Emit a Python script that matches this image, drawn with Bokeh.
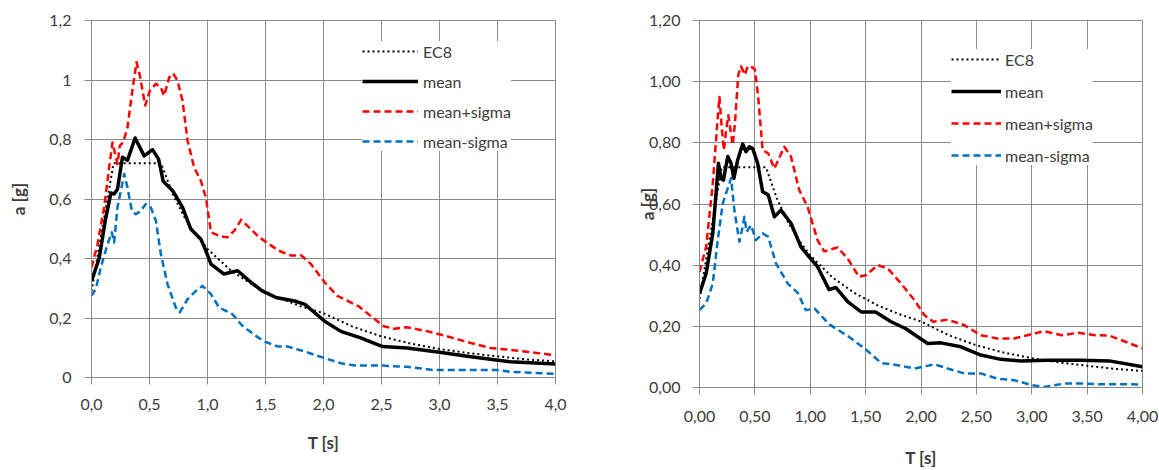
from bokeh.plotting import figure
from bokeh.layouts import row
from bokeh.models import FixedTicker, Range1d
from bokeh.embed import file_html
from bokeh.resources import INLINE

# ---------------- data: left chart ----------------
l_ec8_t = [0.0, 0.19, 0.6, 0.7, 0.8, 0.9, 1.0, 1.2, 1.4, 1.6, 1.8, 2.0, 2.25, 2.5, 2.75, 3.0, 3.25, 3.5, 3.75, 4.0]
l_ec8 = [0.29, 0.72, 0.72, 0.617, 0.54, 0.48, 0.432, 0.36, 0.309, 0.27, 0.24, 0.216, 0.171, 0.138, 0.114, 0.096, 0.082, 0.071, 0.061, 0.054]

l_mean_t = [0.0, 0.066, 0.12, 0.167, 0.195, 0.224, 0.267, 0.31, 0.376, 0.454, 0.526, 0.578, 0.618, 0.70, 0.785,
            0.856, 0.943, 0.986, 1.03, 1.14, 1.26, 1.36, 1.47, 1.59, 1.75, 1.84, 2.01, 2.15, 2.32, 2.51, 2.72,
            3.00, 3.27, 3.61, 4.00]
l_mean = [0.325, 0.40, 0.53, 0.62, 0.617, 0.633, 0.74, 0.73, 0.805, 0.745, 0.766, 0.734, 0.66, 0.628, 0.572,
          0.499, 0.465, 0.426, 0.381, 0.348, 0.359, 0.325, 0.291, 0.269, 0.257, 0.246, 0.189, 0.155, 0.133, 0.104, 0.099,
          0.085, 0.070, 0.053, 0.045]

l_plus_t = [0.0, 0.052, 0.109, 0.152, 0.181, 0.204, 0.224, 0.244, 0.273, 0.31, 0.348, 0.388, 0.417, 0.463, 0.503,
            0.555, 0.598, 0.626, 0.67, 0.704, 0.741, 0.785, 0.828, 0.885, 0.943, 0.986, 1.03, 1.10, 1.17, 1.23,
            1.29, 1.36, 1.44, 1.61, 1.72, 1.81, 1.89, 2.01, 2.12, 2.30, 2.41, 2.52, 2.61, 2.72, 2.90, 3.07, 3.27,
            3.44, 3.61, 4.00]
l_plus = [0.37, 0.448, 0.572, 0.706, 0.79, 0.751, 0.717, 0.779, 0.79, 0.84, 0.953, 1.06, 1.015, 0.914, 0.964,
          0.987, 0.975, 0.947, 1.009, 1.022, 0.998, 0.93, 0.796, 0.706, 0.661, 0.605, 0.488, 0.476, 0.471, 0.493,
          0.53, 0.504, 0.473, 0.427, 0.41, 0.41, 0.382, 0.32, 0.274, 0.24, 0.206, 0.172, 0.164, 0.169, 0.155, 0.138,
          0.116, 0.099, 0.093, 0.075]

l_minus_t = [0.0, 0.037, 0.08, 0.138, 0.175, 0.195, 0.224, 0.253, 0.282, 0.31, 0.348, 0.382, 0.425, 0.468, 0.511,
             0.555, 0.598, 0.655, 0.727, 0.761, 0.828, 0.90, 0.957, 1.03, 1.10, 1.215, 1.30, 1.417, 1.49, 1.61,
             1.69, 1.84, 2.01, 2.15, 2.27, 2.50, 2.72, 2.95, 3.24, 3.50, 3.61, 4.00]
l_minus = [0.275, 0.297, 0.37, 0.448, 0.488, 0.454, 0.572, 0.628, 0.684, 0.639, 0.56, 0.549, 0.56, 0.583, 0.572,
           0.527, 0.415, 0.314, 0.235, 0.219, 0.263, 0.291, 0.308, 0.28, 0.235, 0.213, 0.174, 0.14, 0.121, 0.104,
           0.104, 0.087, 0.065, 0.048, 0.04, 0.04, 0.036, 0.025, 0.025, 0.025, 0.019, 0.012]

# ---------------- data: right chart ----------------
r_ec8_t = [0.0, 0.2, 0.6, 0.7, 0.8, 0.9, 1.0, 1.2, 1.4, 1.6, 1.8, 2.0, 2.25, 2.5, 2.75, 3.0, 3.25, 3.5, 3.75, 4.0]
r_ec8 = [0.29, 0.72, 0.72, 0.617, 0.54, 0.48, 0.432, 0.36, 0.309, 0.27, 0.24, 0.216, 0.171, 0.138, 0.114, 0.096, 0.082, 0.071, 0.061, 0.054]

r_mean_t = [0.0, 0.06, 0.12, 0.171, 0.195, 0.216, 0.255, 0.285, 0.31, 0.345, 0.39, 0.42, 0.45, 0.48, 0.525, 0.57,
            0.62, 0.676, 0.735, 0.826, 0.916, 0.99, 1.066, 1.17, 1.23, 1.34, 1.46, 1.59, 1.73, 1.86, 1.97, 2.06,
            2.18, 2.36, 2.54, 2.72, 2.90, 3.14, 3.45, 3.70, 4.00]
r_mean = [0.307, 0.373, 0.504, 0.733, 0.684, 0.678, 0.755, 0.733, 0.684, 0.744, 0.796, 0.771, 0.787, 0.782, 0.733, 0.64,
          0.63, 0.558, 0.58, 0.537, 0.46, 0.427, 0.395, 0.32, 0.327, 0.28, 0.247, 0.247, 0.215, 0.193, 0.166, 0.144,
          0.146, 0.133, 0.106, 0.092, 0.087, 0.089, 0.089, 0.087, 0.068]

r_plus_t = [0.0, 0.06, 0.12, 0.165, 0.18, 0.20, 0.22, 0.24, 0.26, 0.28, 0.30, 0.32, 0.35, 0.375, 0.41, 0.435, 0.465,
            0.50, 0.53, 0.57, 0.62, 0.676, 0.766, 0.826, 0.90, 0.976, 1.066, 1.126, 1.246, 1.337, 1.44, 1.50, 1.61,
            1.70, 1.82, 1.94, 2.03, 2.11, 2.24, 2.39, 2.54, 2.69, 2.84, 2.96, 3.11, 3.27, 3.42, 3.57, 3.70, 4.00]
r_plus = [0.378, 0.46, 0.667, 0.885, 0.95, 0.853, 0.776, 0.84, 0.89, 0.84, 0.793, 0.864, 1.022, 1.05, 1.022, 1.05, 1.05,
          1.04, 0.95, 0.776, 0.766, 0.716, 0.787, 0.755, 0.646, 0.591, 0.482, 0.445, 0.458, 0.422, 0.362, 0.367, 0.40,
          0.389, 0.34, 0.286, 0.237, 0.215, 0.222, 0.204, 0.171, 0.16, 0.16, 0.171, 0.184, 0.171, 0.179, 0.171, 0.17, 0.128]

r_minus_t = [0.0, 0.06, 0.12, 0.165, 0.21, 0.255, 0.285, 0.315, 0.36, 0.39, 0.405, 0.426, 0.465, 0.51, 0.57, 0.62,
             0.69, 0.796, 0.886, 0.96, 1.04, 1.17, 1.34, 1.50, 1.64, 1.79, 1.94, 2.12, 2.24, 2.39, 2.54, 2.69, 2.84,
             3.00, 3.11, 3.30, 3.45, 3.60, 4.00]
r_minus = [0.253, 0.275, 0.34, 0.482, 0.602, 0.651, 0.684, 0.58, 0.477, 0.526, 0.558, 0.509, 0.531, 0.482, 0.504, 0.493,
           0.406, 0.34, 0.31, 0.253, 0.258, 0.207, 0.168, 0.125, 0.08, 0.073, 0.062, 0.076, 0.062, 0.046, 0.046, 0.029,
           0.024, 0.008, 0.002, 0.013, 0.013, 0.011, 0.01]

x_ticks = [0.0, 0.5, 1.0, 1.5, 2.0, 2.5, 3.0, 3.5, 4.0]
y_ticks = [0.0, 0.2, 0.4, 0.6, 0.8, 1.0, 1.2]
l_x_labels = ["0,0", "0,5", "1,0", "1,5", "2,0", "2,5", "3,0", "3,5", "4,0"]
l_y_labels = ["0", "0,2", "0,4", "0,6", "0,8", "1", "1,2"]
r_x_labels = ["0,00", "0,50", "1,00", "1,50", "2,00", "2,50", "3,00", "3,50", "4,00"]
r_y_labels = ["0,00", "0,20", "0,40", "0,60", "0,80", "1,00", "1,20"]

FONT = "Lato"
GRID = "#8a8a8a"
TXT = "#3c3c3c"


def make_chart(series, xlabels, ylabels, fw, fh, bl, br, bt, bb, cfg):
    p = figure(frame_width=fw, frame_height=fh, min_border_left=bl, min_border_right=br,
               min_border_top=bt, min_border_bottom=bb, x_range=Range1d(0, 4.0), y_range=Range1d(0, 1.2),
               output_backend="svg", toolbar_location=None, background_fill_color="white",
               border_fill_color="white", outline_line_color=GRID, outline_line_width=1)
    for (tt, vv, label, color, width, dash) in series:
        p.line(tt, vv, line_color=color, line_width=width, line_dash=dash, legend_label=label,
               line_join="round")
    for ax, ticks, labels in ((p.xaxis[0], x_ticks, xlabels), (p.yaxis[0], y_ticks, ylabels)):
        ax.ticker = FixedTicker(ticks=ticks)
        ax.major_label_overrides = {t: s for t, s in zip(ticks, labels)}
        ax.minor_tick_line_color = None
        ax.major_tick_in = 0
        ax.major_tick_out = 7
        ax.major_tick_line_color = GRID
        ax.axis_line_color = GRID
        ax.major_label_text_font = FONT
        ax.major_label_text_font_size = cfg["tick_size"]
        ax.major_label_text_color = TXT
        ax.axis_label_text_font = FONT
        ax.axis_label_text_font_size = cfg["label_size"]
        ax.axis_label_text_font_style = "bold"
        ax.axis_label_text_color = TXT
    p.xaxis.axis_label = "T [s]"
    p.yaxis.axis_label = "a [g]"
    p.xaxis.major_label_standoff = cfg["x_std"]
    p.xaxis.axis_label_standoff = cfg["x_lab_std"]
    p.yaxis.major_label_standoff = cfg["y_std"]
    p.yaxis.axis_label_standoff = cfg["y_lab_std"]
    p.xgrid.ticker = FixedTicker(ticks=x_ticks)
    p.ygrid.ticker = FixedTicker(ticks=y_ticks)
    p.grid.grid_line_color = GRID
    p.grid.grid_line_width = 1
    lg = p.legend[0]
    lg.location = cfg["leg_loc"]
    lg.background_fill_color = "white"
    lg.background_fill_alpha = 1.0
    lg.border_line_color = None
    lg.padding = 8
    lg.margin = 0
    lg.spacing = cfg["leg_spacing"]
    lg.glyph_width = cfg["glyph_w"]
    lg.glyph_height = 20
    lg.label_height = 20
    lg.label_standoff = cfg["leg_std"]
    lg.label_text_font = FONT
    lg.label_text_font_size = cfg["leg_size"]
    lg.label_text_color = TXT
    return p


left_series = [
    (l_ec8_t, l_ec8, "EC8", "black", 2, "2 3"),
    (l_mean_t, l_mean, "mean", "black", 3.5, "solid"),
    (l_plus_t, l_plus, "mean+sigma", "#ff0000", 2.5, "7 4"),
    (l_minus_t, l_minus, "mean-sigma", "#0070c0", 2.5, "7 4"),
]
right_series = [
    (r_ec8_t, r_ec8, "EC8", "black", 2, "2 3"),
    (r_mean_t, r_mean, "mean", "black", 3.5, "solid"),
    (r_plus_t, r_plus, "mean+sigma", "#ff0000", 2.5, "7 4"),
    (r_minus_t, r_minus, "mean-sigma", "#0070c0", 2.5, "7 4"),
]

p1 = make_chart(left_series, l_x_labels, l_y_labels, 464, 357, 91, 25, 20, 93,
                dict(tick_size="16px", label_size="17px", x_std=14, x_lab_std=19, y_std=13, y_lab_std=17,
                     leg_loc=(271, 226), leg_spacing=10, glyph_w=56, leg_std=5, leg_size="16px"))
p2 = make_chart(right_series, r_x_labels, r_y_labels, 443, 367, 119, 17, 20, 83,
                dict(tick_size="16px", label_size="17px", x_std=16, x_lab_std=22, y_std=12, y_lab_std=-12,
                     leg_loc=(252, 222), leg_spacing=12, glyph_w=50, leg_std=4, leg_size="16px"))

layout = row(p1, p2)
open("out.html", "w").write(file_html(layout, INLINE))
